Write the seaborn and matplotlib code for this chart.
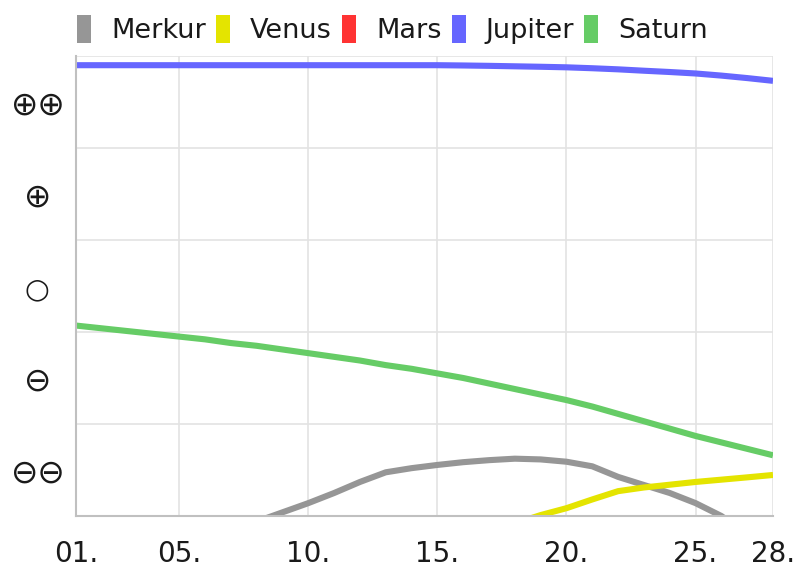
import numpy as np
import matplotlib
matplotlib.use("Agg")
import matplotlib.pyplot as plt
from matplotlib.patches import Patch
import seaborn as sns

# Daten (Tage 1-28, Skala 0..5)
days = list(range(1, 29))
xtick_pos = [1, 5, 10, 15, 20, 25, 28]
xtick_labels = ["01.", "05.", "10.", "15.", "20.", "25.", "28."]
ytick_labels = ["⊖⊖", "⊖", "○", "⊕", "⊕⊕"]

planets = ["Merkur", "Venus", "Mars", "Jupiter", "Saturn"]
colors = ["#969696", "#e4e400", "#ff3333", "#6666ff", "#66cc66"]

merkur = [None, None, None, None, None, None, None,
          -0.06, 0.04, 0.14, 0.25, 0.37, 0.475, 0.52, 0.555, 0.585, 0.607,
          0.623, 0.615, 0.59, 0.54, 0.425, 0.337, 0.25, 0.14, 0.0, -0.2, None]
venus = [None] * 17 + [-0.08, 0.01, 0.085, 0.18, 0.27, 0.31, 0.34, 0.37,
                       0.395, 0.42, 0.446]
mars = [None] * 28
jupiter = [4.90, 4.90, 4.90, 4.90, 4.90, 4.90, 4.90, 4.90, 4.90, 4.90,
           4.90, 4.90, 4.90, 4.90, 4.90, 4.897, 4.893, 4.888, 4.883, 4.877,
           4.867, 4.855, 4.84, 4.826, 4.81, 4.787, 4.76, 4.73]
saturn = [2.07, 2.04, 2.01, 1.98, 1.95, 1.92, 1.88, 1.85, 1.81, 1.77,
          1.73, 1.69, 1.64, 1.60, 1.55, 1.50, 1.44, 1.38, 1.32, 1.26,
          1.19, 1.11, 1.03, 0.95, 0.87, 0.80, 0.73, 0.66]
series = [merkur, venus, mars, jupiter, saturn]

sns.set_style("white")
plt.rcParams["font.family"] = ["DejaVu Sans"]

fig = plt.figure(figsize=(7.95, 5.72), dpi=100)
ax = fig.add_axes([76 / 795, 1 - 516 / 572, (773 - 76) / 795, (516 - 56) / 572])

for name, vals, col in zip(planets, series, colors):
    y = np.array([np.nan if v is None else v for v in vals], dtype=float)
    if np.all(np.isnan(y)):
        continue
    sns.lineplot(x=days, y=y, color=col, linewidth=4.4, ax=ax, legend=False)
for line in ax.lines:
    line.set_solid_capstyle("butt")
    line.set_solid_joinstyle("round")

ax.set_xlim(1, 28)
ax.set_ylim(0, 5)
ax.set_xticks(xtick_pos)
ax.set_xticklabels(xtick_labels)
ax.set_yticks([0.5, 1.5, 2.5, 3.5, 4.5])
ax.set_yticklabels(ytick_labels)
ax.set_yticks([1, 2, 3, 4, 5], minor=True)

ax.grid(False)
ax.grid(True, axis="x", which="major", color="#e3e3e3", linewidth=1.2)
ax.grid(True, axis="y", which="minor", color="#e3e3e3", linewidth=1.2)
ax.set_axisbelow(True)

ax.tick_params(axis="x", length=8, width=1.2, color="#e3e3e3", pad=9,
               labelsize=20, labelcolor="#1a1a1a")
ax.tick_params(axis="y", which="both", length=0, pad=28,
               labelsize=23.5, labelcolor="#1a1a1a")
for lbl in ax.get_yticklabels():
    lbl.set_horizontalalignment("center")
    if lbl.get_text() == "○":
        lbl.set_fontsize(20.5)

for side in ["top", "right"]:
    ax.spines[side].set_visible(False)
for side in ["left", "bottom"]:
    ax.spines[side].set_color("#c0c0c0")
    ax.spines[side].set_linewidth(1.5)
ax.set_xlabel("")
ax.set_ylabel("")

handles = [Patch(facecolor=c, edgecolor="none", label=n) for n, c in zip(planets, colors)]
fig.legend(handles=handles, loc="center left", bbox_to_anchor=(77 / 795, 0.949), ncol=5,
           frameon=False, fontsize=19.5, handlelength=0.52, handleheight=1.22,
           handletextpad=0.74, columnspacing=0.37, borderpad=0, borderaxespad=0,
           labelcolor="#1a1a1a")

fig.savefig("out.png", dpi=100)
